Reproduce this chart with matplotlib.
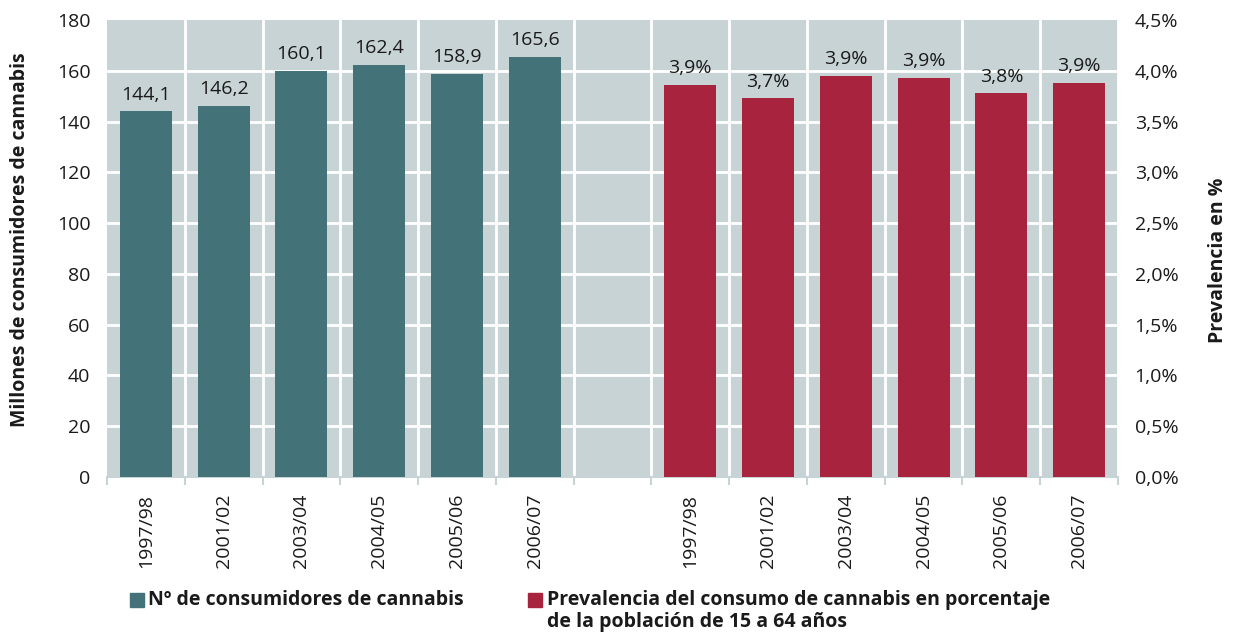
import matplotlib
matplotlib.use("Agg")
import matplotlib.pyplot as plt
from matplotlib.patches import Rectangle
from matplotlib.ticker import FixedLocator

years = ["1997/98", "2001/02", "2003/04", "2004/05", "2005/06", "2006/07"]
consumers = [144.1, 146.2, 160.1, 162.4, 158.9, 165.6]
consumer_labels = ["144,1", "146,2", "160,1", "162,4", "158,9", "165,6"]
prevalence = [3.86, 3.73, 3.95, 3.93, 3.78, 3.88]
prevalence_labels = ["3,9%", "3,7%", "3,9%", "3,9%", "3,8%", "3,9%"]
left_ticks = [0, 20, 40, 60, 80, 100, 120, 140, 160, 180]
right_ticks = [0.0, 0.5, 1.0, 1.5, 2.0, 2.5, 3.0, 3.5, 4.0, 4.5]
right_tick_labels = ["0,0%", "0,5%", "1,0%", "1,5%", "2,0%", "2,5%", "3,0%", "3,5%", "4,0%", "4,5%"]

TEAL = "#437378"
RED = "#A8233D"
BG = "#C8D3D5"
TXT = "#1a1a1a"
FONT = ["Open Sans", "DejaVu Sans"]
plt.rcParams["font.family"] = FONT

fig = plt.figure(figsize=(12.34, 6.32), dpi=100)
ax = fig.add_axes([107/1234, 1-477/632, (1118-107)/1234, (477-20)/632])
ax2 = ax.twinx()
ax.set_facecolor(BG)

n = len(years)
x_left = list(range(n))
x_right = [i + n + 1 for i in range(n)]
w = 0.67

ax.set_xlim(-0.5, 2*n + 0.5)
ax.set_ylim(0, 180)
ax2.set_ylim(0, 4.5)

# grid
for yv in left_ticks[1:-1]:
    ax.axhline(yv, color="white", lw=2, zorder=1)
for b in range(2*n + 1):
    ax.axvline(b + 0.5, color="white", lw=2, zorder=1)

ax.bar(x_left, consumers, width=w, color=TEAL, zorder=3)
ax2.bar(x_right, prevalence, width=w, color=RED, zorder=3)

for xi, v, lab in zip(x_left, consumers, consumer_labels):
    ax.text(xi, v + 3, lab, ha="center", va="bottom", fontsize=14, color=TXT)
for xi, v, lab in zip(x_right, prevalence, prevalence_labels):
    ax2.text(xi, v + 0.075, lab, ha="center", va="bottom", fontsize=14, color=TXT)

ax.set_yticks(left_ticks)
ax.set_yticklabels([str(t) for t in left_ticks])
ax2.set_yticks(right_ticks)
ax2.set_yticklabels(right_tick_labels)

ax.set_xticks(x_left + x_right)
ax.set_xticklabels(years + years, rotation=90)
ax.xaxis.set_minor_locator(FixedLocator([b - 0.5 for b in range(2*n + 2)]))
ax.tick_params(axis="x", which="major", length=0, pad=12, labelsize=14, labelcolor=TXT)
ax.tick_params(axis="x", which="minor", length=6, color="#c8d3d5", width=1.5)
ax.tick_params(axis="y", length=0, pad=12, labelsize=14, labelcolor=TXT)
ax2.tick_params(axis="y", length=0, pad=12, labelsize=14, labelcolor=TXT)

for a in (ax, ax2):
    for s in a.spines.values():
        s.set_visible(False)
ax.spines["bottom"].set_visible(True)
ax.spines["bottom"].set_color("#c8d3d5")
ax.spines["bottom"].set_linewidth(1.5)

fig.text(20/1234, 1-240/632, "Millones de consumidores de cannabis", rotation=90,
         ha="center", va="center", fontsize=14, fontweight="bold", color=TXT)
fig.text(1218/1234, 1-260/632, "Prevalencia en %", rotation=90,
         ha="center", va="center", fontsize=14, fontweight="bold", color=TXT)

# legend
fig.patches.append(Rectangle((130/1234, 1-607/632), 14/1234, 14/632,
                             transform=fig.transFigure, color=TEAL, figure=fig))
fig.text(148/1234, 1-600/632, "Nº de consumidores de cannabis", ha="left", va="center",
         fontsize=14, fontweight="bold", color=TXT)
fig.patches.append(Rectangle((528/1234, 1-607/632), 14/1234, 14/632,
                             transform=fig.transFigure, color=RED, figure=fig))
fig.text(547/1234, 1-600/632, "Prevalencia del consumo de cannabis en porcentaje",
         ha="left", va="center", fontsize=14, fontweight="bold", color=TXT)
fig.text(547/1234, 1-622/632, "de la población de 15 a 64 años",
         ha="left", va="center", fontsize=14, fontweight="bold", color=TXT)

fig.savefig("out.png", dpi=100)
